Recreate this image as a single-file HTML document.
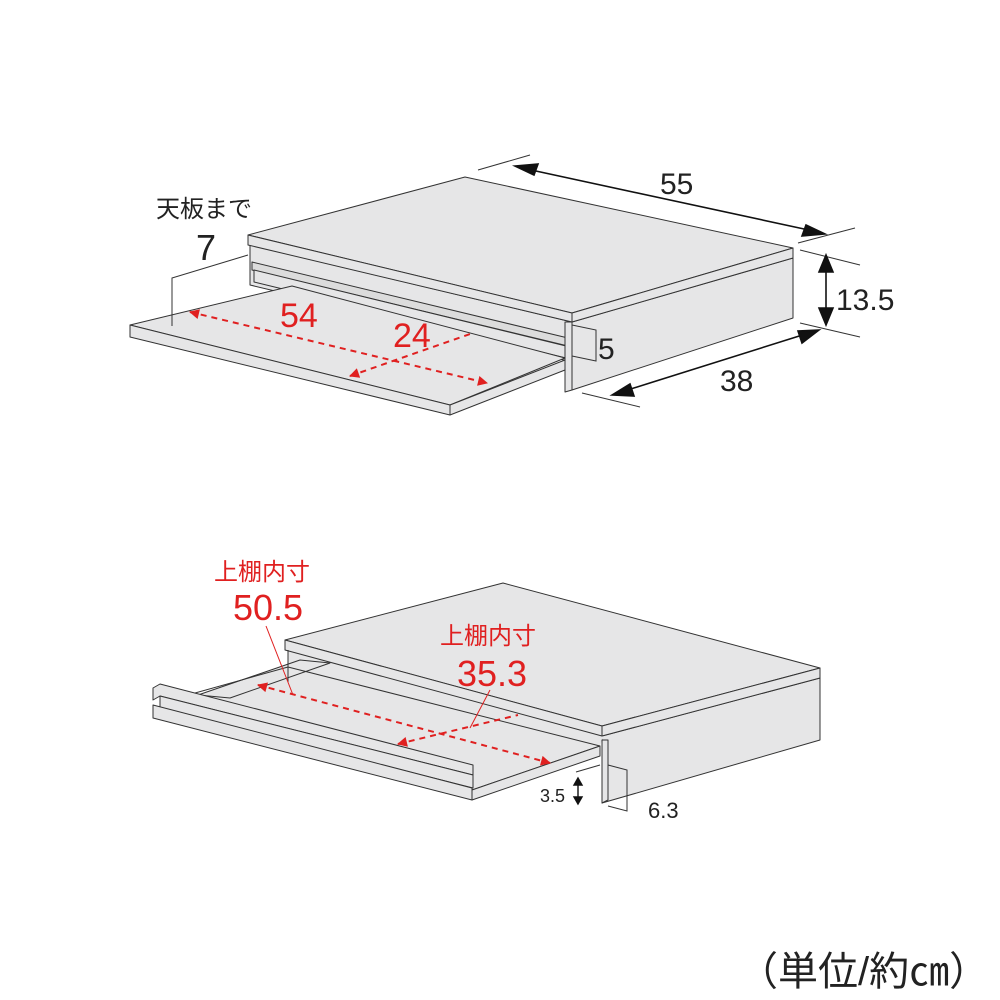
<!DOCTYPE html>
<html><head><meta charset="utf-8"><style>
html,body{margin:0;padding:0;background:#fff;}
svg{display:block;}
text{font-family:"Liberation Sans","Noto Sans CJK JP",sans-serif;}
</style></head><body>
<svg width="1000" height="1000" viewBox="0 0 1000 1000" xmlns="http://www.w3.org/2000/svg">
<defs>
<marker id="ar" viewBox="0 0 10 10" refX="9" refY="5" markerWidth="16" markerHeight="10" orient="auto-start-reverse" markerUnits="userSpaceOnUse"><path d="M0,0 L10,5 L0,10 z" fill="#e02020"/></marker>
</defs>
<g stroke="#333" stroke-width="1" fill="#e6e6e7" stroke-linejoin="round">
<polygon points="572,322 793,258 793,318 572,390"/>
<polygon points="250,245 572,322 572,362 250,285"/>
<polygon points="252,262 568,338 568,346 252,270" fill="#dcdcdc"/>
<polygon points="254,270 566,346 566,358 254,282"/>
<polygon points="130,325 292,286 565,358 450,405" />
<polygon points="130,325 450,405 450,415 130,337"/>
<polygon points="450,405 565,360 565,370 450,415"/>
<polygon points="565,322 572,322 572,390 565,392"/>
<polygon points="248,235 465,177 793,248 572,313"/>
<polygon points="248,235 572,313 572,322 248,245"/>
<polygon points="572,313 793,248 793,258 572,322"/>
</g>
<g stroke="#333" stroke-width="1" fill="none">
<polyline points="248,255 172,278 172,326"/>
<polyline points="572,325 596,330 596,361 572,356"/>
<line x1="478" y1="170" x2="530" y2="155"/>
<line x1="798" y1="243" x2="855" y2="228"/>
<line x1="800" y1="250" x2="860" y2="265"/>
<line x1="800" y1="323" x2="860" y2="337"/>
<line x1="582" y1="393" x2="640" y2="407"/>
</g>
<g stroke="#111" stroke-width="1.6" fill="#111">
<line x1="522" y1="168" x2="818" y2="232"/>
<polygon points="515,166 538,164 534,175"/>
<polygon points="825,234 802,236 806,225"/>
<line x1="826" y1="262" x2="826" y2="318"/>
<polygon points="826,255 819,272 833,272"/>
<polygon points="826,325 819,308 833,308"/>
<line x1="618" y1="393" x2="812" y2="332"/>
<polygon points="612,395 630,384 634,396"/>
<polygon points="819,330 802,343 798,331"/>
</g>
<g stroke="#e02020" stroke-width="2" stroke-dasharray="6,5" fill="none">
<line x1="190" y1="312" x2="487" y2="383" marker-start="url(#ar)" marker-end="url(#ar)"/>
<line x1="350" y1="376" x2="473" y2="333" marker-start="url(#ar)"/>
</g>
<g font-size="24" fill="#222">
<text x="156" y="217">天板まで</text>
<text x="196" y="260" font-size="36">7</text>
<text x="660" y="194" font-size="30">55</text>
<text x="836" y="310" font-size="30">13.5</text>
<text x="598" y="359" font-size="30">5</text>
<text x="720" y="391" font-size="30">38</text>
</g>
<g fill="#e02020" font-size="34">
<text x="280" y="327">54</text>
<text x="393" y="347">24</text>
</g>

<g stroke="#333" stroke-width="1" fill="#e6e6e7" stroke-linejoin="round">
<polygon points="602,736 820,678 820,740 602,803"/>
<polygon points="200,695 288,668 288,648 604,734 600,746 472,790" stroke="none"/>
<polygon points="198,695 300,660 330,663 230,698"/>
<polygon points="170,700 288,667 600,746 472,790" fill="none"/>
<polygon points="472,790 600,746 600,756 472,800"/>
<polygon points="153,688 160,684 473,765 473,775 160,696 153,700"/>
<polygon points="160,696 473,775 473,788 160,709"/>
<polygon points="153,705 472,788 472,800 153,718"/>
<polygon points="602,740 608,740 608,800 602,803"/>
<polygon points="285,640 503,583 820,668 602,726"/>
<polygon points="285,640 602,726 602,736 285,650"/>
<polygon points="602,726 820,668 820,678 602,736"/>
<line x1="288" y1="650" x2="288" y2="682"/>
</g>
<g stroke="#333" stroke-width="1" fill="none">
<polyline points="608,765 627,770 627,811 608,806"/>
<line x1="576" y1="772" x2="600" y2="765"/>
</g>
<g stroke="#111" stroke-width="1.4" fill="#111">
<line x1="578" y1="782" x2="578" y2="800"/>
<polygon points="578,778 574,785 582,785"/>
<polygon points="578,804 574,797 582,797"/>
</g>
<g stroke="#e02020" stroke-width="2" stroke-dasharray="6,5" fill="none">
<line x1="258" y1="685" x2="550" y2="763" marker-start="url(#ar)" marker-end="url(#ar)"/>
<line x1="398" y1="744" x2="518" y2="715" marker-start="url(#ar)"/>
</g>
<g stroke="#e02020" stroke-width="1" fill="none">
<line x1="266" y1="626" x2="293" y2="695"/>
<line x1="490" y1="690" x2="470" y2="728"/>
</g>
<g fill="#e02020">
<text x="214" y="580" font-size="24">上棚内寸</text>
<text x="233" y="620" font-size="36">50.5</text>
<text x="440" y="644" font-size="24">上棚内寸</text>
<text x="457" y="686" font-size="36">35.3</text>
</g>
<g fill="#222">
<text x="540" y="802" font-size="18">3.5</text>
<text x="648" y="818" font-size="22">6.3</text>
<text x="738" y="985" font-size="40">（単位/約㎝）</text>
</g>
</svg>
</body></html>
